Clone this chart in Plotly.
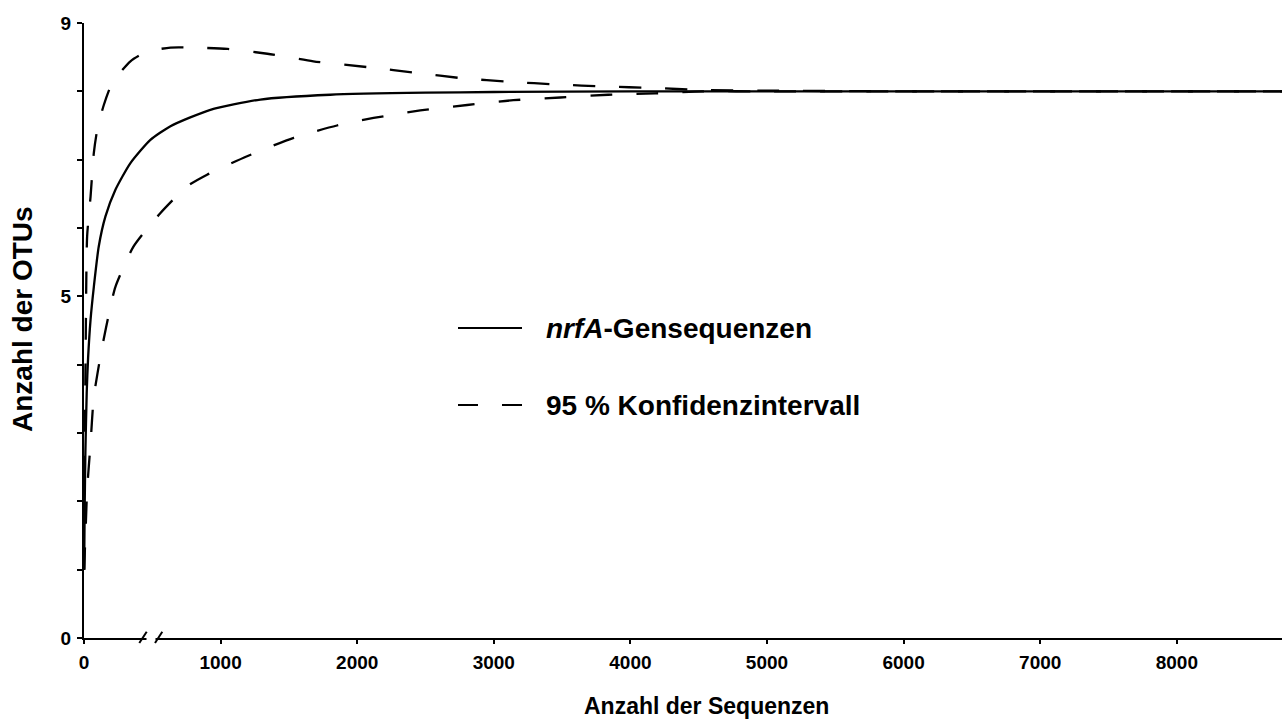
import plotly.graph_objects as go

# Rarefaction curve of nrfA gene sequences with 95 % confidence bounds
seq_main = [1, 5, 10, 20, 30, 48, 72, 108, 157, 230, 340, 486, 633, 925, 1291,
            1803, 2500, 3000, 4000, 6000, 8800]
otu_main = [1.0, 1.9, 2.7, 3.6, 4.1, 4.66, 5.14, 5.73, 6.17, 6.56, 6.95, 7.29,
            7.49, 7.73, 7.88, 7.95, 7.98, 7.99, 8.0, 8.0, 8.0]

seq_upper = [1, 5, 12, 23, 48, 72, 97, 145, 206, 340, 462, 633, 802, 1050, 1342,
             1679, 2096, 2437, 2777, 3120, 3471, 3815, 4166, 4510, 5000, 6000, 8800]
otu_upper = [1.0, 2.5, 4.2, 5.88, 6.46, 7.10, 7.44, 7.80, 8.12, 8.44, 8.58, 8.64,
             8.64, 8.62, 8.55, 8.44, 8.35, 8.27, 8.19, 8.14, 8.10, 8.07, 8.05,
             8.02, 8.01, 8.0, 8.0]

seq_lower = [1, 11, 23, 48, 72, 133, 194, 230, 363, 560, 755, 901, 1194, 1535,
             1852, 2120, 2462, 2805, 3143, 3487, 3837, 4181, 4525, 5000, 6000, 8800]
otu_lower = [1.0, 1.53, 2.17, 2.85, 3.53, 4.26, 4.85, 5.14, 5.73, 6.22, 6.61, 6.78,
             7.05, 7.32, 7.50, 7.61, 7.72, 7.80, 7.87, 7.91, 7.95, 7.97, 8.0,
             8.0, 8.0, 8.0]

x_ticks = [0, 1000, 2000, 3000, 4000, 5000, 6000, 7000, 8000]
y_ticks = [0, 1, 2, 3, 4, 5, 6, 7, 8, 9]
y_tick_text = ["0", "", "", "", "", "5", "", "", "", "9"]

FONT = "Arial, 'Liberation Sans', Helvetica, sans-serif"
DASH = "22px,24px"

W, H = 1282, 722
L, R, T, B = 84, 0, 23, 84
PW, PH = W - L - R, H - T - B


def px(xp):
    return (xp - L) / PW


def py(yp):
    return (H - B - yp) / PH


fig = go.Figure()
fig.add_trace(go.Scatter(x=seq_upper, y=otu_upper, mode="lines",
                         line=dict(color="black", width=2.3, dash=DASH, shape="spline",
                                   smoothing=0.6)))
fig.add_trace(go.Scatter(x=seq_lower, y=otu_lower, mode="lines",
                         line=dict(color="black", width=2.3, dash=DASH, shape="spline",
                                   smoothing=0.6)))
fig.add_trace(go.Scatter(x=seq_main, y=otu_main, mode="lines",
                         line=dict(color="black", width=2.3, shape="spline",
                                   smoothing=0.6)))

shapes = []
# axis break on the x axis
shapes.append(dict(type="rect", xref="paper", yref="paper",
                   x0=px(146.5), x1=px(155.5), y0=py(641), y1=py(635),
                   fillcolor="white", line=dict(width=0), layer="above"))
for a, b in [(139.3, 146.7), (155.0, 162.3)]:
    shapes.append(dict(type="line", xref="paper", yref="paper",
                       x0=px(a), y0=py(643), x1=px(b), y1=py(631.7),
                       line=dict(color="black", width=2), layer="above"))

# legend samples
shapes.append(dict(type="line", xref="paper", yref="paper",
                   x0=px(458), x1=px(522), y0=py(328), y1=py(328),
                   line=dict(color="black", width=2)))
for a, b in [(458, 478), (502, 522)]:
    shapes.append(dict(type="line", xref="paper", yref="paper",
                       x0=px(a), x1=px(b), y0=py(405), y1=py(405),
                       line=dict(color="black", width=2)))

annotations = [
    dict(text="<b><i>nrfA</i>-Gensequenzen</b>", xref="paper", yref="paper",
         x=px(544), y=py(328), xanchor="left", yanchor="middle", showarrow=False,
         font=dict(size=28, color="black", family=FONT)),
    dict(text="<b>95 % Konfidenzintervall</b>", xref="paper", yref="paper",
         x=px(544), y=py(405), xanchor="left", yanchor="middle", showarrow=False,
         font=dict(size=28, color="black", family=FONT)),
    dict(text="<b>Anzahl der Sequenzen</b>", xref="paper", yref="paper",
         x=px(706), y=py(706), xanchor="center", yanchor="middle", showarrow=False,
         font=dict(size=23, color="black", family=FONT)),
    dict(text="<b>Anzahl der OTUs</b>", xref="paper", yref="paper",
         x=px(22), y=py(319), xanchor="center", yanchor="middle", showarrow=False,
         textangle=-90, font=dict(size=28, color="black", family=FONT)),
]

fig.update_layout(
    width=W, height=H,
    margin=dict(l=L, r=R, t=T, b=B),
    paper_bgcolor="white", plot_bgcolor="white",
    showlegend=False,
    shapes=shapes,
    annotations=annotations,
    font=dict(family=FONT, color="black"),
    xaxis=dict(range=[0, 8770], tickvals=x_ticks,
               ticktext=[f"<b>{v}</b>" for v in x_ticks],
               showgrid=False, zeroline=False, showline=True, linecolor="black",
               linewidth=2, ticks="outside", ticklen=4, tickwidth=1.5,
               tickcolor="black", tickfont=dict(size=19, family=FONT, color="black"),
               ticklabelstandoff=2),
    yaxis=dict(range=[0, 9], tickvals=y_ticks,
               ticktext=[f"<b>{t}</b>" if t else "" for t in y_tick_text],
               showgrid=False, zeroline=False, showline=True, linecolor="black",
               linewidth=2, ticks="outside", ticklen=5, tickwidth=1.5,
               tickcolor="black", tickfont=dict(size=19, family=FONT, color="black"),
               ticklabelstandoff=2),
)

fig.write_html("out.html")
